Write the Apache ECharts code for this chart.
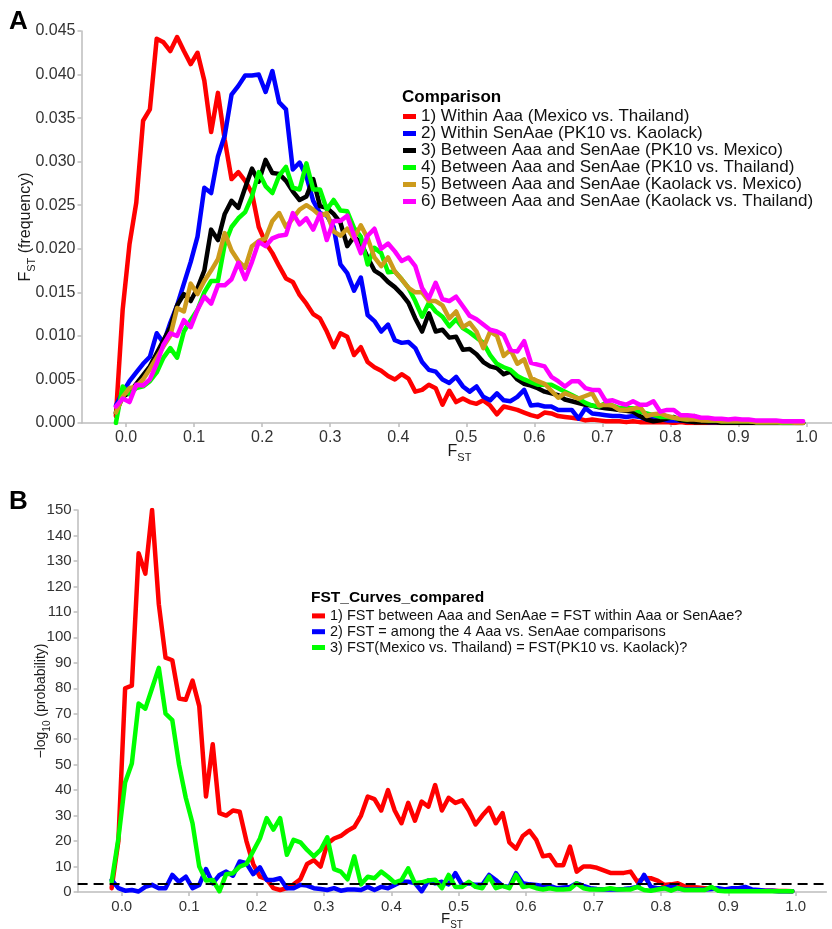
<!DOCTYPE html>
<html>
<head>
<meta charset="utf-8">
<script src="https://cdn.jsdelivr.net/npm/echarts@6/dist/echarts.min.js"></script>
<style>
  html,body{margin:0;padding:0;background:#fff;}
  #fst-chart{width:832px;height:929px;}
</style>
</head>
<body>
<div id="fst-chart"></div>
<script>
// FST bin centres (shared by both panels)
var fstBins = [-0.015,-0.005,0.005,0.015,0.025,0.035,0.045,0.055,0.065,0.075,
  0.085,0.095,0.105,0.115,0.125,0.135,0.145,0.155,0.165,0.175,
  0.185,0.195,0.205,0.215,0.225,0.235,0.245,0.255,0.265,0.275,
  0.285,0.295,0.305,0.315,0.325,0.335,0.345,0.355,0.365,0.375,
  0.385,0.395,0.405,0.415,0.425,0.435,0.445,0.455,0.465,0.475,
  0.485,0.495,0.505,0.515,0.525,0.535,0.545,0.555,0.565,0.575,
  0.585,0.595,0.605,0.615,0.625,0.635,0.645,0.655,0.665,0.675,
  0.685,0.695,0.705,0.715,0.725,0.735,0.745,0.755,0.765,0.775,
  0.785,0.795,0.805,0.815,0.825,0.835,0.845,0.855,0.865,0.875,
  0.885,0.895,0.905,0.915,0.925,0.935,0.945,0.955,0.965,0.975,
  0.985,0.995];
var xTickValues = [0,0.1,0.2,0.3,0.4,0.5,0.6,0.7,0.8,0.9,1.0];

// panel A: FST frequency per comparison
var comparisonNames = [
  '1) Within Aaa (Mexico vs. Thailand)',
  '2) Within SenAae (PK10 vs. Kaolack)',
  '3) Between Aaa and SenAae (PK10 vs. Mexico)',
  '4) Between Aaa and SenAae (PK10 vs. Thailand)',
  '5) Between Aaa and SenAae (Kaolack vs. Mexico)',
  '6) Between Aaa and SenAae (Kaolack vs. Thailand)'
];
var withinAaa = [0.0008,0.013,0.0205,0.0253,0.0347,0.036,0.0441,0.0437,0.0427,0.0443,
  0.0427,0.0412,0.0425,0.0393,0.0334,0.0379,0.0325,0.0280,0.0288,0.0278,
  0.0264,0.0225,0.0207,0.0195,0.0180,0.0166,0.0162,0.0147,0.0137,0.0125,
  0.0120,0.0105,0.0087,0.0103,0.0099,0.0078,0.0087,0.0070,0.0064,0.0060,
  0.0054,0.0050,0.0056,0.0051,0.0036,0.0038,0.0044,0.0040,0.0021,0.0037,
  0.0024,0.0028,0.0024,0.0022,0.0026,0.0020,0.0010,0.0019,0.0017,0.0015,
  0.0012,0.0009,0.0007,0.0012,0.0011,0.0008,0.0007,0.0006,0.0005,0.0003,
  0.0004,0.0003,0.0002,0.0002,0.0002,0.0001,0.0002,0.0001,0.0001,0.0001,
  0.0001,0.0001,0,0.0001,0,0,0,0,0,0,
  0,0,0,0,0,0,0,0,0,0,0,0];
var withinSenAae = [0.0020,0.0035,0.0048,0.0058,0.0068,0.0076,0.0103,0.0092,0.0115,0.0135,
  0.0160,0.0185,0.0214,0.0270,0.0264,0.0306,0.0330,0.0377,0.0387,0.0399,
  0.0399,0.0400,0.0380,0.0404,0.0368,0.0360,0.0291,0.0299,0.0283,0.0255,
  0.0241,0.0238,0.0225,0.0182,0.0172,0.0152,0.0167,0.0124,0.0117,0.0105,
  0.0113,0.0095,0.0092,0.0093,0.0086,0.0070,0.0061,0.0059,0.0050,0.0046,
  0.0053,0.0042,0.0036,0.0042,0.0030,0.0026,0.0034,0.0026,0.0025,0.0030,
  0.0038,0.0020,0.0021,0.0019,0.0019,0.0015,0.0015,0.0015,0.0005,0.0017,
  0.0011,0.0010,0.0009,0.0008,0.0008,0.0007,0.0008,0.0007,0.0004,0.0006,
  0.0004,0.0003,0.0003,0.0003,0.0002,0.0002,0.0002,0.0001,0.0001,0.0001,
  0.0001,0.0001,0.0001,0.0001,0,0,0,0,0,0,0,0];
var pk10Mexico = [0.0012,0.0030,0.0035,0.0045,0.0055,0.0065,0.0080,0.0095,0.0110,0.0135,
  0.0148,0.0140,0.0155,0.0175,0.0222,0.0210,0.0240,0.0255,0.0247,0.0270,
  0.0292,0.0277,0.0302,0.0287,0.0286,0.0278,0.0266,0.0256,0.0260,0.0280,
  0.0249,0.0247,0.0240,0.0230,0.0203,0.0214,0.0207,0.0190,0.0175,0.0170,
  0.0162,0.0156,0.0148,0.0138,0.0120,0.0105,0.0126,0.0105,0.0107,0.0098,
  0.0099,0.0084,0.0085,0.0079,0.0070,0.0065,0.0063,0.0056,0.0059,0.0050,
  0.0045,0.0043,0.0040,0.0036,0.0034,0.0032,0.0027,0.0025,0.0023,0.0021,
  0.0020,0.0018,0.0017,0.0016,0.0015,0.0014,0.0013,0.0008,0.0004,0.0002,
  0.0003,0.0005,0.0007,0.0003,0.0002,0.0001,0.0001,0.0001,0.0001,0,
  0,0,0,0,0,0,0,0,0,0,0,0];
var pk10Thailand = [0,0.0042,0.0033,0.0040,0.0042,0.0048,0.0058,0.0075,0.0086,0.0075,
  0.0105,0.0118,0.0130,0.0150,0.0163,0.0163,0.0205,0.0225,0.0235,0.0242,
  0.0260,0.0288,0.0272,0.0264,0.0284,0.0294,0.0270,0.0268,0.0298,0.0268,
  0.0268,0.0245,0.0256,0.0244,0.0243,0.0224,0.0214,0.0182,0.0201,0.0195,
  0.0173,0.0174,0.0165,0.0155,0.0140,0.0122,0.0138,0.0128,0.0122,0.0111,
  0.0119,0.0109,0.0104,0.0098,0.0092,0.0078,0.0068,0.0064,0.0061,0.0054,
  0.0050,0.0047,0.0044,0.0044,0.0044,0.0040,0.0036,0.0032,0.0028,0.0023,
  0.0020,0.0019,0.0023,0.0020,0.0017,0.0017,0.0017,0.0013,0.0011,0.0009,
  0.0007,0.0007,0.0006,0.0005,0.0004,0.0008,0.0004,0.0003,0.0003,0.0002,
  0.0002,0.0002,0.0002,0.0002,0.0001,0.0001,0.0001,0.0001,0,0,0,0];
var kaolackMexico = [0.0012,0.0030,0.0040,0.0042,0.0050,0.0062,0.0075,0.0088,0.0100,0.0132,
  0.0128,0.0160,0.0148,0.0163,0.0175,0.0188,0.0218,0.0198,0.0186,0.0178,
  0.0203,0.0209,0.0212,0.0232,0.0241,0.0225,0.0235,0.0245,0.0250,0.0245,
  0.0238,0.0241,0.0220,0.0215,0.0223,0.0212,0.0227,0.0212,0.0190,0.0180,
  0.0190,0.0174,0.0165,0.0155,0.0150,0.0150,0.0140,0.0140,0.0135,0.0120,
  0.0128,0.0110,0.0115,0.0105,0.0086,0.0105,0.0100,0.0077,0.0084,0.0068,
  0.0073,0.0052,0.0048,0.0045,0.0037,0.0029,0.0034,0.0031,0.0028,0.0031,
  0.0034,0.0020,0.0021,0.0020,0.0015,0.0015,0.0016,0.0019,0.0008,0.0010,
  0.0011,0.0008,0.0006,0.0005,0.0004,0.0004,0.0003,0.0003,0.0003,0.0002,
  0.0002,0.0002,0.0002,0.0002,0.0001,0.0001,0.0001,0.0001,0.0001,0.0001,0,0];
var kaolackThailand = [0.0019,0.0028,0.0024,0.0044,0.0043,0.0050,0.0068,0.0090,0.0103,0.0100,
  0.0118,0.0110,0.0130,0.0145,0.0137,0.0158,0.0158,0.0165,0.0184,0.0165,
  0.0185,0.0208,0.0203,0.0212,0.0215,0.0216,0.0241,0.0228,0.0235,0.0222,
  0.0240,0.0210,0.0232,0.0232,0.0238,0.0215,0.0195,0.0215,0.0223,0.0200,
  0.0206,0.0197,0.0186,0.0190,0.0180,0.0155,0.0143,0.0161,0.0142,0.0140,
  0.0145,0.0134,0.0123,0.0119,0.0113,0.0107,0.0105,0.0101,0.0084,0.0082,
  0.0094,0.0069,0.0067,0.0065,0.0053,0.0048,0.0042,0.0048,0.0048,0.0040,
  0.0038,0.0038,0.0025,0.0026,0.0023,0.0021,0.0025,0.0021,0.0021,0.0025,
  0.0013,0.0015,0.0015,0.0009,0.0009,0.0008,0.0006,0.0006,0.0005,0.0005,
  0.0004,0.0005,0.0004,0.0004,0.0003,0.0003,0.0003,0.0003,0.0002,0.0002,0.0002,0.0002];

// panel B: -log10(probability) of the curve tests
var testNames = [
  '1) FST between Aaa and SenAae = FST within Aaa or SenAae?',
  '2) FST = among the 4 Aaa vs. SenAae comparisons',
  '3) FST(Mexico vs. Thailand) = FST(PK10 vs. Kaolack)?'
];
var betweenVsWithin = [1.5,20,80,81,133,125,150,113,92,91,
  76,75.5,83,73,37.5,58,31,30,32,31.5,
  20,11,6,5,1.5,0.8,1.5,3,5,11,
  12.5,10,19,21,22,24,25.5,30,37.5,36.5,
  32,40,32,27,35,28,35.5,33.5,42,32,
  37,35,36,32,26.5,30,33,27,31,19.5,
  17,22,24,20.5,14,14.5,10.5,10.5,17.8,8,
  10,10,9.5,8.5,7.5,7.5,7.5,8,4,5.5,
  5.4,4.5,2.8,3,3.4,2.2,2,1.8,1.5,1.5,
  1.2,1,1,0.8,0.8,0.6,0.6,0.5,0.5,0.4,0.4,0.3];
var amongFour = [4.7,1.5,0.5,0.8,0.2,2,2.8,1.5,1.5,6.7,
  4,6,1.5,2.8,9,3.4,6.7,8,6.4,12,
  11.3,7,9.7,4.7,4.7,5.4,1.5,1.5,2.8,2.5,
  1.5,1.2,0.8,1.5,0.5,1,1,0.8,2,0.8,
  2,1.5,2.8,4,4,3.5,0.3,4.5,3.4,4,
  3,7.4,2.8,3.4,2.8,2.8,6.7,4.7,2.4,2,
  7.4,3.4,3,2.8,2.4,2.4,1.5,1.8,2,3.4,
  2.4,1.5,1.2,1,1,1,1.2,1.5,2,6.7,
  2,1.5,1.5,2.4,1.5,1,1,1,1,1.2,
  1.5,1,1.5,1.5,2,1,0.8,0.5,0.5,0.3,0.3,0.3];
var mexThaiVsPkKao = [4,21,43,50.5,74,72,80,88,70,67.5,
  50,37,27,10,4.5,4.7,0.3,7,7.4,10,
  11,16,21,29,24.5,29,14.6,20.5,19.5,16.5,
  14,16.5,21.5,9,8,5,14,3,6,5.4,
  8,6,3.7,4.7,9.3,3.4,3.8,4.5,4.8,1.5,
  6.7,2,2,4,2,1.5,6,1.5,2.4,1.5,
  6.7,2,2.4,1.5,1,1.5,1,1,1.2,3.4,
  1.5,1,1,1,1.5,1,1,1,2,0.8,
  0.5,1,1.5,0.5,1.5,0.8,0.8,0.8,0.8,2,
  0.5,0.3,0.3,0.3,0.3,0.3,0.3,0.3,0.3,0.3,0.3,0.3];
var significanceLine = 3.31;

var colorsA = ['#ff0000','#0000ff','#000000','#00ff00','#cd9b1d','#ff00ff'];
var colorsB = ['#ff0000','#0000ff','#00ff00'];

function pairs(ys){
  var out = [];
  for (var i = 0; i < ys.length; i++) { out.push([fstBins[i], ys[i]]); }
  return out;
}

var fontFam = "'Liberation Sans', Arial, sans-serif";
var axisGrey = '#bdbdbd';
var richName = function(size){
  return {
    n: {fontSize: size, lineHeight: 22, color: '#1a1a1a', fontFamily: fontFam},
    s: {fontSize: Math.round(size * 0.68), lineHeight: 12, verticalAlign: 'bottom', color: '#1a1a1a', fontFamily: fontFam}
  };
};

function makeXAxis(grid, size, gap){
  return {
    gridIndex: grid, type: 'value', min: -0.0655, max: 1.0455,
    axisLine: {show: true, onZero: false, lineStyle: {color: axisGrey, width: 1.5}},
    axisTick: {show: true, customValues: xTickValues, length: 4, lineStyle: {color: axisGrey, width: 1.5}},
    axisLabel: {customValues: xTickValues, fontSize: size, color: '#333', margin: 7, fontFamily: fontFam,
      formatter: function(v){ return v.toFixed(1); }},
    splitLine: {show: false},
    name: '{n|F}{s|ST}', nameLocation: 'middle', nameGap: gap, nameMoveOverlap: false,
    nameTextStyle: {rich: richName(size)}
  };
}

var chartDom = document.getElementById('fst-chart');
var fstChart = echarts.init(chartDom, null, {renderer: 'canvas'});

// 线条样式统一
function lineOf(name, arr, color, axis){
  return {
    name: name, type: 'line', xAxisIndex: axis, yAxisIndex: axis,
    data: pairs(arr), symbol: 'none', color: color,
    lineStyle: {width: 4.5, color: color, join: 'round', cap: 'round'}, animation: false
  };
}

var seriesA = [withinAaa, withinSenAae, pk10Mexico, pk10Thailand, kaolackMexico, kaolackThailand].map(function(arr, k){
  return lineOf(comparisonNames[k], arr, colorsA[k], 0);
});
var seriesB = [betweenVsWithin, amongFour, mexThaiVsPkKao].map(function(arr, k){
  return lineOf(testNames[k], arr, colorsB[k], 1);
});
seriesB[2].markLine = {
  silent: true, symbol: 'none', animation: false,
  label: {show: false},
  lineStyle: {color: '#000', type: [10, 6], width: 2},
  data: [{yAxis: significanceLine}]
};

var fstOption = {
  backgroundColor: '#fff',
  animation: false,
  textStyle: {fontFamily: fontFam},
  grid: [
    {left: 81.5, right: -5.5, top: 31, bottom: 506, outerBoundsMode: 'none'},
    {left: 77.6, right: 5.6, top: 510, bottom: 37, outerBoundsMode: 'none'}
  ],
  xAxis: [makeXAxis(0, 16, 18), makeXAxis(1, 15, 16)],
  yAxis: [
    {
      gridIndex: 0, type: 'value', min: 0, max: 0.045, interval: 0.005,
      axisLine: {show: true, onZero: false, lineStyle: {color: axisGrey, width: 1.5}},
      axisTick: {show: true, length: 4, lineStyle: {color: axisGrey, width: 1.5}},
      axisLabel: {fontSize: 16, color: '#333', margin: 6, fontFamily: fontFam,
        formatter: function(v){ return v.toFixed(3); }},
      splitLine: {show: false},
      name: '{n|F}{s|ST}{n| (frequency)}', nameLocation: 'middle', nameGap: 44.5, nameMoveOverlap: false,
      nameTextStyle: {rich: richName(16)}
    },
    {
      gridIndex: 1, type: 'value', min: 0, max: 150, interval: 10,
      axisLine: {show: true, onZero: false, lineStyle: {color: axisGrey, width: 1.5}},
      axisTick: {show: true, length: 4, lineStyle: {color: axisGrey, width: 1.5}},
      axisLabel: {fontSize: 15, color: '#333', margin: 6, fontFamily: fontFam},
      splitLine: {show: false},
      name: '{n|\u2212log}{s|10}{n| (probability)}', nameLocation: 'middle', nameGap: 25.6, nameMoveOverlap: false,
      nameTextStyle: {rich: richName(14)}
    }
  ],
  legend: [
    {
      data: comparisonNames, orient: 'vertical', left: 403, top: 108, padding: 0,
      itemWidth: 13, itemHeight: 5, icon: 'rect', itemGap: 0, selectedMode: false,
      textStyle: {fontSize: 17, lineHeight: 16.5, color: '#111', fontFamily: fontFam}
    },
    {
      data: testNames, orient: 'vertical', left: 312, top: 608, padding: 0,
      itemWidth: 13, itemHeight: 5, icon: 'rect', itemGap: 0, selectedMode: false,
      textStyle: {fontSize: 14.5, lineHeight: 15.8, color: '#111', fontFamily: fontFam}
    }
  ],
  graphic: [
    {type: 'text', left: 9, top: 9, style: {text: 'A', font: 'bold 26px ' + fontFam, fill: '#000'}},
    {type: 'text', left: 9, top: 489, style: {text: 'B', font: 'bold 26px ' + fontFam, fill: '#000'}},
    {type: 'text', left: 402, top: 89, style: {text: 'Comparison', font: 'bold 17px ' + fontFam, fill: '#000'}},
    {type: 'text', left: 311, top: 590, style: {text: 'FST_Curves_compared', font: 'bold 15.5px ' + fontFam, fill: '#000'}}
  ],
  series: seriesA.concat(seriesB)
};

fstOption && fstChart.setOption(fstOption);
</script>
</body>
</html>
